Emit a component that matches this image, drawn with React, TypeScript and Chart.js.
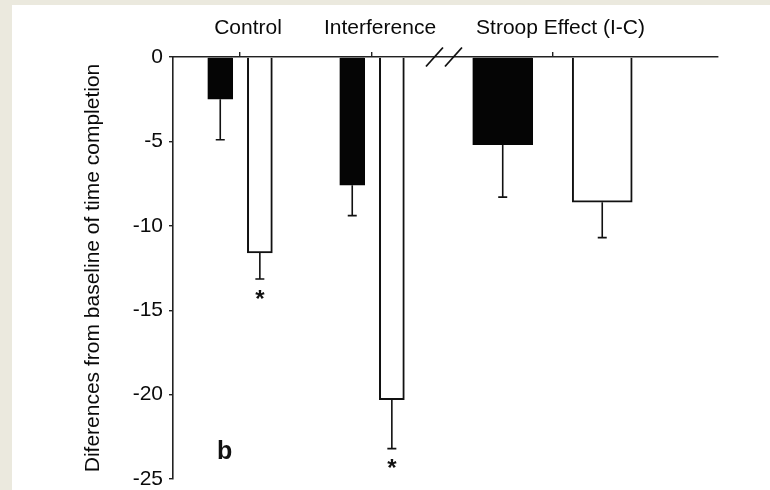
import { useEffect, useRef } from "react";
import { Chart, registerables } from "chart.js";

Chart.register(...registerables);

// ---- data ----
const GROUPS = ["Control", "Interference", "Stroop Effect (I-C)"];
const BLACK_VALUES = [-2.5, -7.6, -5.2];
const BLACK_ERRORS = [2.4, 1.8, 3.1];
const WHITE_VALUES = [-11.6, -20.3, -8.6];
const WHITE_ERRORS = [1.55, 2.9, 2.1];
const WHITE_SIGNIFICANT = [true, true, false];
const BLACK_SIGNIFICANT = [false, false, false];
const Y_TICKS = [0, -5, -10, -15, -20, -25];
const Y_TITLE = "Diferences from baseline of time completion";
const PANEL_LABEL = "b";

// ---- layout (not data) ----
const GROUP_X = [1, 2, 3.367];
const BAR_OFFSET = [0.15, 0.15, 0.377];
const BAR_WIDTH = [25, 25, 60];
const X_MIN = 0.492;
const X_MAX = 4.621;
const BREAK_X = 2.545;
const FONT = "'Liberation Sans', Arial, sans-serif";
const TEXT = "#0a0a0a";

type DS = any;

function buildDatasets(): DS[] {
  const out: DS[] = [];
  GROUPS.forEach((_, i) => {
    out.push({
      label: GROUPS[i] + " black",
      data: [{ x: GROUP_X[i] - BAR_OFFSET[i], y: BLACK_VALUES[i] }],
      backgroundColor: "#050505",
      borderColor: "#050505",
      borderWidth: 1,
      barThickness: BAR_WIDTH[i],
      grouped: false,
      errorValue: BLACK_ERRORS[i],
      significant: BLACK_SIGNIFICANT[i],
    });
    out.push({
      label: GROUPS[i] + " white",
      data: [{ x: GROUP_X[i] + BAR_OFFSET[i], y: WHITE_VALUES[i] }],
      backgroundColor: "#ffffff",
      borderColor: "#111111",
      borderWidth: 2,
      barThickness: BAR_WIDTH[i],
      grouped: false,
      errorValue: WHITE_ERRORS[i],
      significant: WHITE_SIGNIFICANT[i],
    });
  });
  return out;
}

const extrasPlugin = {
  id: "extras",
  afterDatasetsDraw(chart: any) {
    const ctx = chart.ctx;
    const yScale = chart.scales.y;
    const xScale = chart.scales.x;
    const area = chart.chartArea;
    ctx.save();
    ctx.strokeStyle = "#111";
    ctx.fillStyle = "#111";
    ctx.lineWidth = 1.6;
    chart.data.datasets.forEach((ds: any, d: number) => {
      const meta = chart.getDatasetMeta(d);
      meta.data.forEach((el: any, j: number) => {
        const v = ds.data[j].y;
        const x = el.x;
        const yBar = el.y;
        const yCap = yScale.getPixelForValue(v - ds.errorValue);
        ctx.beginPath();
        ctx.moveTo(x, yBar);
        ctx.lineTo(x, yCap);
        ctx.moveTo(x - 4.5, yCap);
        ctx.lineTo(x + 4.5, yCap);
        ctx.stroke();
        if (ds.significant) {
          ctx.font = `bold 24px ${FONT}`;
          ctx.textAlign = "center";
          ctx.textBaseline = "middle";
          ctx.fillText("*", x, yCap + 21);
        }
      });
    });
    // axis break marks
    const bx = xScale.getPixelForValue(BREAK_X);
    const by = area.top;
    ctx.lineWidth = 1.8;
    [-9.5, 9.5].forEach((dx) => {
      ctx.beginPath();
      ctx.moveTo(bx + dx - 8.5, by + 9.5);
      ctx.lineTo(bx + dx + 8.5, by - 9.5);
      ctx.stroke();
    });
    // panel label
    ctx.font = `bold 25px ${FONT}`;
    ctx.textAlign = "left";
    ctx.textBaseline = "alphabetic";
    ctx.fillText(PANEL_LABEL, area.left + 44, area.bottom - 20);
    ctx.restore();
  },
};

export default function App() {
  const ref = useRef<HTMLCanvasElement | null>(null);
  useEffect(() => {
    if (!ref.current) return;
    const chart = new Chart(ref.current, {
      type: "bar",
      data: { datasets: buildDatasets() },
      options: {
        animation: false,
        responsive: false,
        devicePixelRatio: 1,
        layout: { padding: { left: 81, right: 52, top: 0, bottom: 0 } },
        plugins: { legend: { display: false }, tooltip: { enabled: false } },
        scales: {
          x: {
            type: "linear",
            position: "top",
            min: X_MIN,
            max: X_MAX,
            offset: false,
            afterBuildTicks: (s: any) => {
              s.ticks = GROUP_X.map((v) => ({ value: v }));
            },
            afterFit: (s: any) => {
              s.height = 57;
            },
            ticks: {
              callback: (_v: any, i: number) => GROUPS[i],
              font: { family: FONT, size: 21 },
              color: TEXT,
              padding: 11,
              labelOffset: 8,
              maxRotation: 0,
              autoSkip: false,
            },
            grid: {
              offset: false,
              drawOnChartArea: false,
              drawTicks: true,
              tickLength: 5,
              color: "#222",
              lineWidth: 1.4,
            },
            border: { display: true, color: "#222", width: 1.6 },
          },
          y: {
            type: "linear",
            min: -25,
            max: 0,
            afterBuildTicks: (s: any) => {
              s.ticks = Y_TICKS.map((v) => ({ value: v }));
            },
            afterFit: (s: any) => {
              s.width = 92;
              s.paddingTop = 0;
              s.paddingBottom = 11;
            },
            ticks: {
              font: { family: FONT, size: 21 },
              color: TEXT,
              padding: 6,
            },
            grid: {
              drawOnChartArea: false,
              drawTicks: true,
              tickLength: 4,
              color: "#222",
              lineWidth: 1.4,
            },
            border: { display: true, color: "#222", width: 1.6 },
            title: {
              display: true,
              text: Y_TITLE,
              font: { family: FONT, size: 21 },
              color: TEXT,
              padding: 0,
            },
          },
        },
      } as any,
      plugins: [extrasPlugin],
    });
    return () => chart.destroy();
  }, []);

  return (
    <div
      style={{
        position: "fixed",
        left: 0,
        top: 0,
        width: 770,
        height: 490,
        background: "#ebe9de",
        overflow: "hidden",
      }}
    >
      <div
        style={{
          position: "absolute",
          left: 12,
          top: 5,
          right: 0,
          bottom: 0,
          background: "#ffffff",
        }}
      />
      <canvas
        ref={ref}
        width={770}
        height={490}
        style={{ position: "absolute", left: 0, top: 0, width: 770, height: 490 }}
      />
    </div>
  );
}
